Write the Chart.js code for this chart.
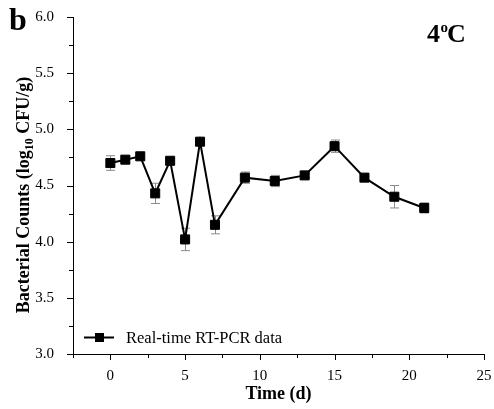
<!DOCTYPE html>
<html><head><meta charset="utf-8">
<script src="https://cdn.jsdelivr.net/npm/chart.js@4/dist/chart.umd.min.js"></script>
<style>html,body{margin:0;padding:0;background:#fff;}canvas{display:block;}</style>
</head><body>
<canvas id="c" width="494" height="409"></canvas>
<script>
// ---- data ----
const times  = [0, 1, 2, 3, 4, 5, 6, 7, 9, 11, 13, 15, 17, 19, 21];
const counts = [4.70, 4.73, 4.76, 4.43, 4.72, 4.02, 4.89, 4.15, 4.57, 4.54, 4.59, 4.85, 4.57, 4.40, 4.30];
const errors = [0.065, 0.02, 0.02, 0.09, 0.02, 0.10, 0.02, 0.08, 0.05, 0.05, 0.02, 0.055, 0.02, 0.10, 0.045];
const seriesLabel = 'Real-time RT-PCR data';
const xTitle = 'Time (d)';
const yTitleParts = ['Bacterial Counts (log', '10', ' CFU/g)'];
const panelLabel = 'b';
const tempParts = ['4', 'o', 'C'];
const xRange = [-2.5, 25];
const yRange = [3.0, 6.0];
const xMajorStep = 5, xMinorStep = 2.5;
const yMajorStep = 0.5, yMinorStep = 0.25;

const SERIF = "'Liberation Serif','Times New Roman',serif";

const points = times.map((t, i) => ({x: t, y: counts[i]}));

const errorBarPlugin = {
  id: 'errorBars',
  beforeDatasetsDraw(chart) {
    const ctx = chart.ctx, xs = chart.scales.x, ys = chart.scales.y;
    ctx.save();
    ctx.strokeStyle = '#8a8a8a';
    ctx.lineWidth = 1;
    times.forEach((t, i) => {
      const px = Math.round(xs.getPixelForValue(t)) + 0.5;
      const top = ys.getPixelForValue(counts[i] + errors[i]);
      const bot = ys.getPixelForValue(counts[i] - errors[i]);
      ctx.beginPath();
      ctx.moveTo(px, top); ctx.lineTo(px, bot);
      ctx.moveTo(px - 4.5, top); ctx.lineTo(px + 4.5, top);
      ctx.moveTo(px - 4.5, bot); ctx.lineTo(px + 4.5, bot);
      ctx.stroke();
    });
    ctx.restore();
  }
};

const decorPlugin = {
  id: 'decor',
  afterDraw(chart) {
    const ctx = chart.ctx, xs = chart.scales.x, ys = chart.scales.y, a = chart.chartArea;
    ctx.save();
    ctx.strokeStyle = '#000';
    ctx.lineWidth = 1;
    const eps = 1e-6;
    for (let v = xRange[0]; v <= xRange[1] + eps; v += xMinorStep) {
      const px = Math.round(xs.getPixelForValue(v)) + 0.5;
      const major = Math.abs(v / xMajorStep - Math.round(v / xMajorStep)) < eps;
      ctx.beginPath();
      ctx.moveTo(px, a.bottom); ctx.lineTo(px, a.bottom + (major ? 6 : 4));
      ctx.stroke();
    }
    for (let v = yRange[0]; v <= yRange[1] + eps; v += yMinorStep) {
      const py = Math.round(ys.getPixelForValue(v)) + 0.5;
      const major = Math.abs(v / yMajorStep - Math.round(v / yMajorStep)) < eps;
      ctx.beginPath();
      ctx.moveTo(a.left, py); ctx.lineTo(a.left - (major ? 6 : 4), py);
      ctx.stroke();
    }
    // y title with subscript
    ctx.fillStyle = '#000';
    const fMain = 'bold 18px ' + SERIF, fSub = 'bold 12px ' + SERIF;
    ctx.font = fMain; const w1 = ctx.measureText(yTitleParts[0]).width;
    const w3 = ctx.measureText(yTitleParts[2]).width;
    ctx.font = fSub; const w2 = ctx.measureText(yTitleParts[1]).width;
    const total = w1 + w2 + w3;
    ctx.translate(29, 195);
    ctx.rotate(-Math.PI / 2);
    ctx.textBaseline = 'alphabetic'; ctx.textAlign = 'left';
    let x0 = -total / 2;
    ctx.font = fMain; ctx.fillText(yTitleParts[0], x0, 0); x0 += w1;
    ctx.font = fSub; ctx.fillText(yTitleParts[1], x0, 4); x0 += w2;
    ctx.font = fMain; ctx.fillText(yTitleParts[2], x0, 0);
    ctx.setTransform(1, 0, 0, 1, 0, 0);
    // panel label
    ctx.font = 'bold 32px ' + SERIF;
    ctx.textAlign = 'left'; ctx.textBaseline = 'alphabetic';
    ctx.fillText(panelLabel, 9, 30);
    // temperature
    ctx.font = 'bold 26px ' + SERIF;
    let tx = 427;
    ctx.fillText(tempParts[0], tx, 42); tx += ctx.measureText(tempParts[0]).width + 0.5;
    ctx.font = 'bold 15px ' + SERIF;
    ctx.fillText(tempParts[1], tx, 32); tx += ctx.measureText(tempParts[1]).width - 1;
    ctx.font = 'bold 26px ' + SERIF;
    ctx.fillText(tempParts[2], tx, 42);
    // legend
    const ly = 337.5;
    ctx.lineWidth = 2;
    ctx.beginPath(); ctx.moveTo(84, ly); ctx.lineTo(114, ly); ctx.stroke();
    ctx.fillRect(95, ly - 4.5, 9, 9);
    ctx.font = '16.5px ' + SERIF;
    ctx.textBaseline = 'middle';
    ctx.fillText(chart.data.datasets[0].label, 126, ly + 1);
    ctx.restore();
  }
};

new Chart(document.getElementById('c'), {
  type: 'scatter',
  data: {
    datasets: [{
      label: seriesLabel,
      data: points,
      showLine: true,
      borderColor: '#000',
      borderWidth: 2,
      pointStyle: 'rect',
      pointRadius: 6.4,
      pointBackgroundColor: '#000',
      pointBorderColor: '#000',
      pointBorderWidth: 1,
      tension: 0
    }]
  },
  options: {
    responsive: false,
    animation: false,
    devicePixelRatio: 1,
    layout: {padding: {left: 0, right: 10, top: 17, bottom: 0}},
    plugins: {legend: {display: false}, tooltip: {enabled: false}},
    scales: {
      x: {
        type: 'linear', min: xRange[0], max: xRange[1],
        afterBuildTicks(s) {
          const t = [];
          for (let v = 0; v <= xRange[1] + 1e-6; v += xMajorStep) t.push({value: v});
          s.ticks = t;
        },
        afterFit(s) { s.height = 55; s.paddingLeft = 0; s.paddingRight = 0; },
        grid: {display: false},
        border: {display: true, color: '#000', width: 1},
        ticks: {color: '#000', font: {family: SERIF, size: 15}, padding: 5, maxRotation: 0},
        title: {display: true, text: xTitle, color: '#000', font: {family: SERIF, size: 18, weight: 'bold'}, padding: {top: 0, bottom: 4}}
      },
      y: {
        type: 'linear', min: yRange[0], max: yRange[1],
        afterBuildTicks(s) {
          const t = [];
          for (let v = yRange[0]; v <= yRange[1] + 1e-6; v += yMajorStep) t.push({value: Math.round(v * 100) / 100});
          s.ticks = t;
        },
        afterFit(s) { s.width = 73; s.paddingTop = 0; s.paddingBottom = 0; },
        grid: {display: false},
        border: {display: true, color: '#000', width: 1},
        ticks: {color: '#000', font: {family: SERIF, size: 15}, padding: 11,
          callback: v => Number(v).toFixed(1)}
      }
    }
  },
  plugins: [errorBarPlugin, decorPlugin]
});
</script>
</body></html>
